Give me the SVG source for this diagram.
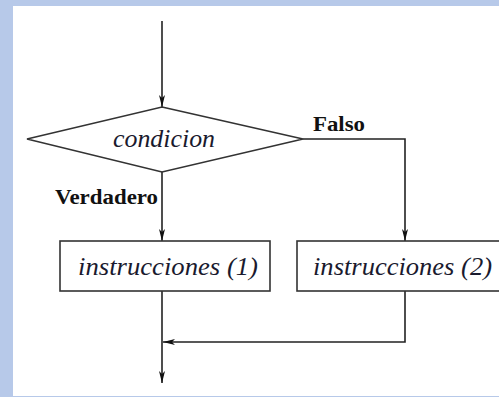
<svg xmlns="http://www.w3.org/2000/svg" width="499" height="397" viewBox="0 0 499 397">
<style>
.ln{fill:none;stroke:#222;stroke-width:1.6}
.box{fill:#fff;stroke:#333;stroke-width:1.6}
.it{font-family:"Liberation Serif",serif;font-style:italic;font-size:26px;fill:#1a1a2e}
.bd{font-family:"Liberation Serif",serif;font-weight:bold;font-size:22px;fill:#111}
</style>
<defs>
<marker id="ah" viewBox="0 0 12 6" refX="12" refY="3" markerWidth="12" markerHeight="6" markerUnits="userSpaceOnUse" orient="auto">
<path d="M0,0 L12,3 L0,6 L3,3 Z" fill="#111"/>
</marker>
</defs>
<rect x="0" y="0" width="499" height="397" fill="#b7c9e9"/>
<rect x="13" y="6" width="486" height="390" fill="#fff"/>
<g id="connectors">
<path class="ln" d="M162,21 L162,107" marker-end="url(#ah)"/>
<path class="ln" d="M162,172 L162,241" marker-end="url(#ah)"/>
<path class="ln" d="M303,139 L405,139 L405,241" marker-end="url(#ah)"/>
<path class="ln" d="M162,291 L162,383" marker-end="url(#ah)"/>
<path class="ln" d="M405,291 L405,342 L163,342" marker-end="url(#ah)"/>
</g>
<g id="cond">
<polygon class="box" points="162,107 303,139 162,172 27,139"/>
<text class="it" x="164" y="147" text-anchor="middle" textLength="102" lengthAdjust="spacingAndGlyphs">condicion</text>
</g>
<g id="lbl-falso"><text class="bd" x="313" y="131" textLength="52" lengthAdjust="spacingAndGlyphs">Falso</text></g>
<g id="lbl-verdadero"><text class="bd" x="55" y="204" textLength="103" lengthAdjust="spacingAndGlyphs">Verdadero</text></g>
<g id="instr1">
<rect class="box" x="60" y="241" width="210" height="50"/>
<text class="it" x="78" y="275" textLength="180" lengthAdjust="spacingAndGlyphs">instrucciones (1)</text>
</g>
<g id="instr2">
<rect class="box" x="297" y="241" width="210" height="50"/>
<text class="it" x="313" y="275" textLength="179" lengthAdjust="spacingAndGlyphs">instrucciones (2)</text>
</g>
</svg>
